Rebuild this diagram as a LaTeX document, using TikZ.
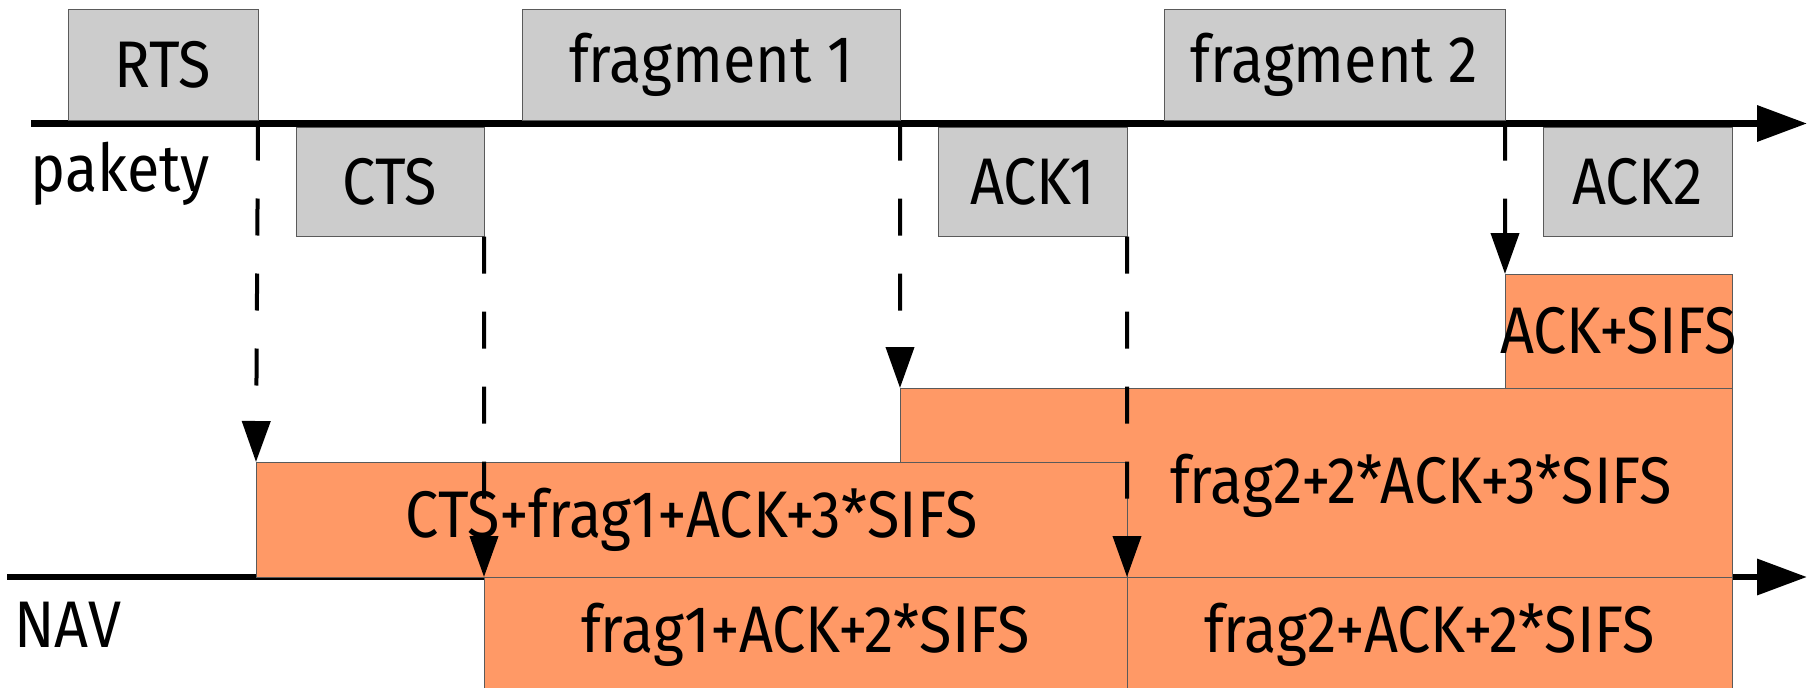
\documentclass[tikz,border=0pt]{standalone}
\usepackage{fontspec}
\setmainfont[FakeStretch=0.9]{Fira Sans}
\usetikzlibrary{arrows.meta}
\definecolor{pktgrey}{HTML}{CCCCCC}
\definecolor{navorange}{HTML}{FF9966}
\definecolor{edgegrey}{HTML}{5A5A5A}
\begin{document}
\begin{tikzpicture}[x=0.2mm,y=-0.2mm,font=\fontsize{37.5}{42}\selectfont,
    box/.style={draw=edgegrey, line width=0.2mm, inner sep=0pt, outer sep=0pt, anchor=north west},
    pkt/.style={box, fill=pktgrey, minimum height=22.4mm},
    nav/.style={box, fill=navorange},
    axis/.style={line width=1.34mm, -{Triangle[length=10mm,width=7mm]}},
    navarrow/.style={line width=0.8mm, dash pattern=on 7.4mm off 7.6mm, -{Triangle[length=8.2mm,width=5.6mm]}}]
    \useasboundingbox (0,0) rectangle (1811,688);

    % time axes
    \coordinate (top0) at (31,123.5);
    \coordinate (top1) at (1807,123.5);
    \coordinate (bot0) at (7,577);
    \coordinate (bot1) at (1807,577);
    \draw[axis] (top0) -- (top1);
    \draw[axis] (bot0) -- (bot1);
    \node[anchor=base west, inner sep=0pt] (pakety) at (30,191) {pakety};
    \node[anchor=base west, inner sep=0pt] (navlabel) at (14,647) {NAV};

    % NAV blocks
    \node[nav, minimum width=166.4mm, minimum height=37.8mm] (nav3) at (900,388) {};
    \node (nav3text) at (1421,486) {frag2+2*ACK+3*SIFS};
    \node[nav, minimum width=45.4mm, minimum height=22.8mm] (nav5) at (1505,274) {};
    \node (nav5text) at (nav5.center) {ACK+SIFS};
    \node[nav, minimum width=174.2mm, minimum height=23mm] (nav1) at (256,462) {CTS+frag1+ACK+3*SIFS};
    \node[nav, minimum width=128.6mm, minimum height=23mm] (nav2) at (484,577) {frag1+ACK+2*SIFS};
    \node[nav, minimum width=121mm, minimum height=23mm] (nav4) at (1127,577) {frag2+ACK+2*SIFS};

    % packets
    \node[pkt, minimum width=38mm, minimum height=22mm] (rts) at (68,10) {RTS};
    \node[pkt, minimum width=37.6mm, minimum height=21.9mm] (cts) at (296,127) {CTS};
    \node[pkt, minimum width=75.6mm, minimum height=22mm] (frag1) at (522,10) {fragment 1};
    \node[pkt, minimum width=37.8mm, minimum height=21.9mm] (ack1) at (938,127) {ACK1};
    \node[pkt, minimum width=68.2mm, minimum height=22mm] (frag2) at (1164,10) {fragment 2};
    \node[pkt, minimum width=37.8mm, minimum height=21.9mm] (ack2) at (1543,127) {ACK2};

    % NAV updates
    \draw[navarrow] (rts.south east |- top0) -- (nav1.north west);
    \draw[navarrow] (cts.south east) -- (nav2.north west);
    \draw[navarrow] (frag1.south east |- top0) -- (nav3.north west);
    \draw[navarrow] (ack1.south east) -- (nav4.north west);
    \draw[navarrow] (frag2.south east |- top0) -- (nav5.north west);
\end{tikzpicture}
\end{document}
